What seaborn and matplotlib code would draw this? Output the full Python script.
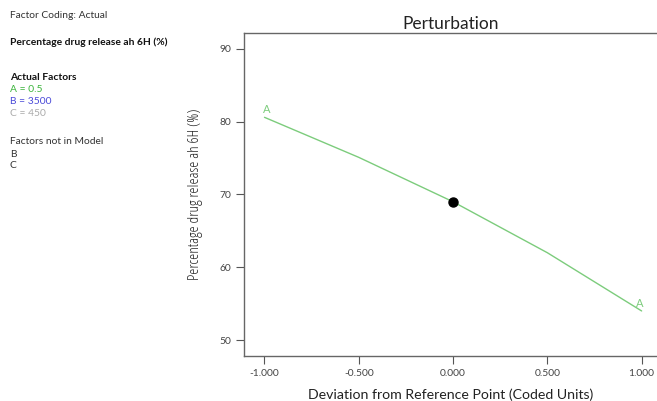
import numpy as np
import pandas as pd
import matplotlib.pyplot as plt
import seaborn as sns

# Perturbation curve for factor A
deviation = [-1.0, -0.5, 0.0, 0.5, 1.0]
release = [80.6, 75.1, 69.0, 62.0, 54.0]
ref_x = [0.0]
ref_y = [68.9]
x_ticks = [-1.0, -0.5, 0.0, 0.5, 1.0]
y_ticks = [50, 60, 70, 80, 90]

sns.set_theme(style='white')
plt.rcParams['font.family'] = ['Lato', 'DejaVu Sans']

df = pd.DataFrame({'dev': deviation, 'rel': release})

fig = plt.figure(figsize=(6.57, 4.01), dpi=100)
ax = fig.add_axes([0.371, 0.112, 0.63, 0.806])

green = '#7ccc7c'
sns.lineplot(data=df, x='dev', y='rel', ax=ax, color=green, linewidth=1.0)
ax.plot(ref_x, ref_y, 'o', color='black', markersize=6.5)

ax.text(deviation[0] + 0.01, release[0] + 0.3, 'A', color=green, fontsize=8,
        ha='center', va='bottom')
ax.text(deviation[-1] - 0.01, release[-1] + 0.2, 'A', color=green, fontsize=8,
        ha='center', va='bottom')

ax.set_xlim(-1.11, 1.085)
ax.set_ylim(47.8, 92.2)
ax.set_xticks(x_ticks)
ax.set_xticklabels([f'{v:.3f}' for v in x_ticks])
ax.set_yticks(y_ticks)
ax.tick_params(direction='out', length=6, width=0.8, colors='#555555',
               labelsize=7.4, labelcolor='#444444', left=True, bottom=True, pad=3)
for side in ['left', 'bottom', 'top', 'right']:
    ax.spines[side].set_color('#666666')
    ax.spines[side].set_linewidth(1.0)

ax.set_title('Perturbation', fontsize=12.5, color='#222222', pad=3)
ax.set_xlabel('Deviation from Reference Point (Coded Units)', fontsize=10.2,
              color='#222222', labelpad=8)
ax.set_ylabel('Percentage drug release ah 6H (%)', fontsize=11,
              color='#222222', labelpad=12, family='Open Sans',
              fontstretch='condensed')

# side panel text
fs = 7.4
fig.text(0.015, 1 - 15 / 401, 'Factor Coding: Actual', fontsize=fs, color='#333333', va='center')
fig.text(0.015, 1 - 42 / 401, 'Percentage drug release ah 6H (%)', fontsize=fs,
         fontweight='bold', color='#111111', va='center')
fig.text(0.015, 1 - 78 / 401, 'Actual Factors', fontsize=fs, fontweight='bold',
         color='#111111', va='center')
fig.text(0.015, 1 - 90 / 401, 'A = 0.5', fontsize=fs, color='#3cb43c', va='center')
fig.text(0.015, 1 - 102 / 401, 'B = 3500', fontsize=fs, color='#4a4ad8', va='center')
fig.text(0.015, 1 - 114 / 401, 'C = 450', fontsize=fs, color='#aaaaaa', va='center')
fig.text(0.015, 1 - 141 / 401, 'Factors not in Model', fontsize=fs, color='#333333', va='center')
fig.text(0.015, 1 - 154 / 401, 'B', fontsize=fs, color='#333333', va='center')
fig.text(0.015, 1 - 166 / 401, 'C', fontsize=fs, color='#333333', va='center')

fig.savefig('out.png', dpi=100)
